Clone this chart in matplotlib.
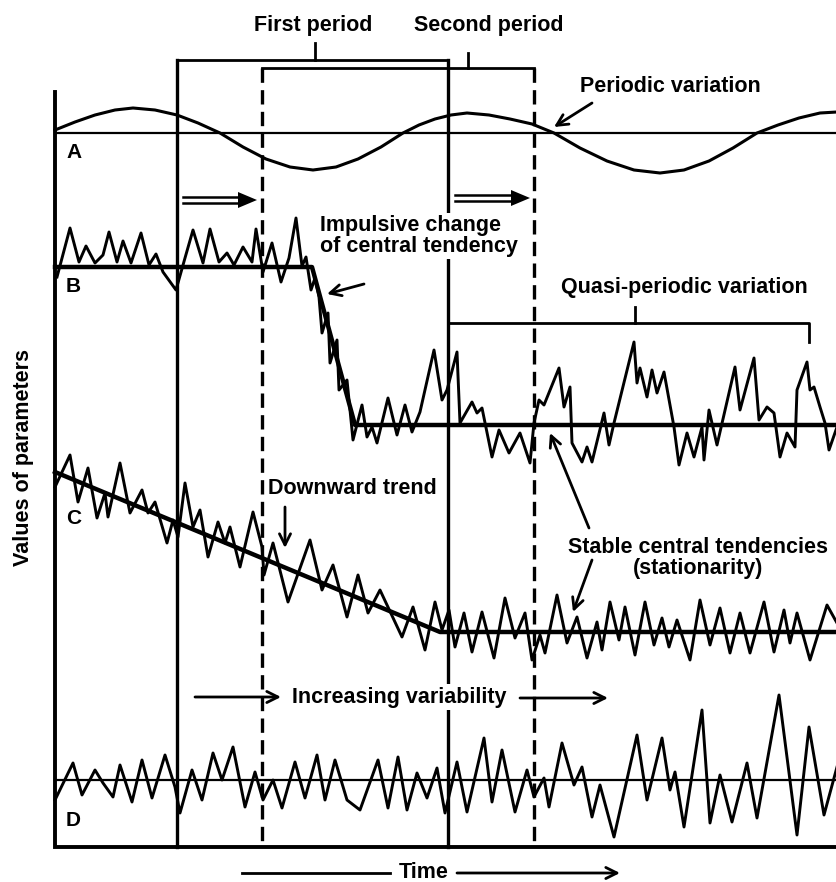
import numpy as np
import matplotlib.pyplot as plt

plt.rcParams['font.family'] = ['Liberation Sans', 'DejaVu Sans']

# Schematic drawn in picture units: x = time, y = value (down is lower value)
W, H = 837, 882

# Period boundaries (time)
t_first_start, t_first_end = 177, 448
t_second_start, t_second_end = 262, 534

# A: periodic variation (curve)
a_level = 133
a_x = [55, 75, 95, 115, 133, 155, 177, 198, 220, 243, 266, 290, 313, 336, 358, 381, 403,
       419, 435, 451, 467, 489, 510, 532, 554, 580, 607, 634, 660, 684, 709, 733, 757,
       778, 799, 820, 837]
a_y = [130, 122, 115, 110, 108, 110, 115, 123, 133, 147, 159, 167, 170, 167, 159, 147, 133,
       125, 119, 115, 113, 115, 119, 124, 133, 148, 161, 170, 173, 170, 161, 148, 133,
       125, 118, 113, 112]

# B: impulsive change of central tendency, then quasi-periodic variation
b_mean_x = [55, 312, 355, 837]
b_mean_y = [267, 267, 425, 425]
b_x = [57, 70, 79, 86, 95, 103, 109, 117, 123, 131, 141, 149, 156, 163, 176, 185, 193, 203,
       210, 219, 227, 234, 243, 252, 256, 263, 272, 281, 289, 296, 302, 306, 311, 315, 319,
       322, 328, 330, 337, 339, 347, 353, 362, 367, 372, 377, 388, 397, 405, 412, 420, 434,
       442, 447, 457, 460, 472, 477, 482, 492, 499, 509, 520, 530, 534, 539, 544, 559, 564,
       570, 572, 582, 587, 592, 604, 609, 614, 634, 637, 640, 647, 652, 657, 664, 674, 679,
       687, 694, 702, 704, 709, 717, 735, 740, 754, 759, 767, 774, 780, 787, 795, 797, 807,
       810, 814, 820, 825, 829, 837]
b_y = [277, 228, 262, 246, 263, 255, 232, 262, 241, 263, 233, 265, 254, 272, 290, 258, 230, 263,
       229, 262, 253, 265, 247, 262, 229, 272, 243, 282, 258, 218, 266, 257, 290, 278, 297,
       333, 313, 363, 340, 390, 380, 440, 405, 437, 427, 443, 398, 435, 405, 432, 412, 350,
       400, 390, 352, 423, 402, 413, 408, 457, 430, 453, 433, 463, 423, 400, 405, 368, 407,
       387, 443, 462, 447, 462, 413, 445, 423, 342, 383, 368, 397, 370, 393, 372, 427, 465,
       433, 457, 427, 460, 410, 445, 367, 410, 358, 420, 407, 413, 457, 433, 447, 390, 362,
       390, 387, 407, 423, 450, 427]

# C: downward trend, then stable central tendency
c_mean_x = [55, 440, 837]
c_mean_y = [472, 632, 632]
c_x = [55, 70, 78, 88, 97, 105, 108, 120, 130, 142, 148, 155, 167, 173, 178, 185, 193, 200,
       208, 218, 225, 230, 240, 253, 262, 264, 273, 288, 310, 322, 333, 347, 358, 368, 380,
       402, 413, 425, 435, 442, 449, 455, 464, 472, 482, 494, 505, 515, 525, 532, 540, 545,
       557, 567, 577, 587, 597, 602, 610, 619, 625, 635, 645, 654, 662, 669, 677, 690, 700,
       710, 720, 730, 740, 750, 764, 774, 784, 790, 797, 810, 827, 837]
c_y = [487, 455, 502, 468, 518, 493, 517, 463, 513, 490, 513, 502, 543, 520, 537, 483, 527, 510,
       557, 522, 543, 527, 567, 512, 547, 575, 543, 602, 540, 590, 565, 617, 575, 613, 590,
       637, 607, 650, 602, 630, 610, 647, 613, 652, 612, 658, 598, 638, 613, 660, 635, 653,
       595, 643, 617, 658, 622, 650, 602, 640, 607, 655, 602, 645, 618, 647, 620, 660, 600,
       645, 608, 653, 613, 653, 602, 652, 610, 643, 613, 660, 605, 623]

# D: increasing variability around a constant level
d_level = 780
d_x = [55, 73, 82, 95, 103, 113, 120, 132, 142, 152, 165, 175, 180, 192, 202, 213, 222, 233,
       245, 255, 263, 273, 282, 295, 305, 317, 325, 335, 347, 360, 378, 388, 398, 407, 417,
       427, 437, 445, 457, 467, 484, 492, 502, 515, 527, 534, 544, 549, 562, 574, 582, 592,
       600, 614, 637, 647, 662, 670, 675, 684, 702, 710, 720, 732, 747, 757, 779, 797, 809,
       824, 837]
d_y = [800, 763, 795, 770, 783, 797, 765, 802, 760, 798, 755, 787, 813, 770, 800, 753, 780, 747,
       807, 772, 800, 780, 808, 762, 798, 755, 800, 760, 800, 810, 760, 808, 757, 810, 773,
       798, 768, 813, 762, 812, 738, 802, 750, 812, 770, 797, 778, 807, 743, 785, 767, 817,
       785, 837, 735, 800, 738, 790, 772, 827, 710, 823, 775, 822, 763, 818, 695, 835, 727,
       815, 767]

fig = plt.figure(figsize=(W / 100, H / 100), dpi=100)
ax = fig.add_axes([0, 0, 1, 1])
ax.set_xlim(0, W)
ax.set_ylim(H, 0)
ax.axis('off')

k = 'black'
dash = (0, (4.3, 2.2))
x_left, y_bottom, y_top = 55, 847, 92

# frame (left and bottom axes)
ax.plot([x_left, x_left, W], [y_top, y_bottom, y_bottom], color=k, lw=2.8,
        solid_joinstyle='miter')

# period boundaries and brackets
ax.plot([t_first_start, t_first_start], [60, y_bottom], color=k, lw=2.4)
ax.plot([t_first_end, t_first_end], [60, y_bottom], color=k, lw=2.4)
ax.plot([t_second_start, t_second_start], [68, y_bottom], color=k, lw=2.4, linestyle=dash)
ax.plot([t_second_end, t_second_end], [68, y_bottom], color=k, lw=2.4, linestyle=dash)
ax.plot([t_first_start, t_first_end], [60, 60], color=k, lw=2)
ax.plot([315, 315], [60, 43], color=k, lw=2)
ax.plot([t_second_start, t_second_end], [68, 68], color=k, lw=2)
ax.plot([468, 468], [68, 53], color=k, lw=2)
ax.text(313, 25, 'First period', ha='center', va='center', fontsize=15.5, fontweight='bold')
ax.text(489, 25, 'Second period', ha='center', va='center', fontsize=15.5, fontweight='bold')

# A
ax.plot([x_left, W], [a_level, a_level], color=k, lw=1.6)
ax.plot(a_x, a_y, color=k, lw=2.2)
ax.text(66, 153, 'A', ha='left', va='center', fontsize=15, fontweight='bold')
ax.text(580, 87, 'Periodic variation', ha='left', va='center', fontsize=15.5, fontweight='bold')
ax.annotate('', xy=(554, 127), xytext=(592, 103),
            arrowprops=dict(arrowstyle='->', lw=2, color=k, mutation_scale=20,
                            shrinkA=0, shrinkB=0))


def double_arrow(x0, x1, y):
    ax.plot([x0, x1 - 14], [y - 3, y - 3], color=k, lw=1.8)
    ax.plot([x0, x1 - 14], [y + 3, y + 3], color=k, lw=1.8)
    ax.fill([x1 - 19, x1, x1 - 19], [y - 8, y, y + 8], color=k, lw=0)


double_arrow(183, 257, 200)
double_arrow(455, 530, 198)

# B
ax.plot(b_mean_x, b_mean_y, color=k, lw=3.2)
ax.plot(b_x, b_y, color=k, lw=2.1)
ax.text(66, 287, 'B', ha='left', va='center', fontsize=15, fontweight='bold')
ax.text(320, 236, 'Impulsive change\nof central tendency', ha='left', va='center',
        fontsize=15.5, fontweight='bold', linespacing=1.05,
        bbox=dict(facecolor='white', edgecolor='none', pad=1))
ax.annotate('', xy=(327, 294), xytext=(364, 284),
            arrowprops=dict(arrowstyle='->', lw=2, color=k, mutation_scale=20,
                            shrinkA=0, shrinkB=0))

# quasi-periodic bracket
ax.plot([t_first_end, 809, 809], [323, 323, 342], color=k, lw=2)
ax.plot([635, 635], [323, 307], color=k, lw=2)
ax.text(684, 287, 'Quasi-periodic variation', ha='center', va='center', fontsize=15.5,
        fontweight='bold')

# C
ax.plot(c_mean_x, c_mean_y, color=k, lw=3.2)
ax.plot(c_x, c_y, color=k, lw=2.1)
ax.text(66, 518, 'C', ha='left', va='center', fontsize=15, fontweight='bold')
ax.text(268, 488, 'Downward trend', ha='left', va='center', fontsize=15.5, fontweight='bold')
ax.annotate('', xy=(285, 548), xytext=(285, 507),
            arrowprops=dict(arrowstyle='->', lw=2, color=k, mutation_scale=20,
                            shrinkA=0, shrinkB=0))
ax.text(698, 558, 'Stable central tendencies\n(stationarity)', ha='center', va='center',
        fontsize=15.5, fontweight='bold', linespacing=1.05)
ax.annotate('', xy=(550, 433), xytext=(589, 528),
            arrowprops=dict(arrowstyle='->', lw=2, color=k, mutation_scale=20,
                            shrinkA=0, shrinkB=0))
ax.annotate('', xy=(573, 612), xytext=(592, 560),
            arrowprops=dict(arrowstyle='->', lw=2, color=k, mutation_scale=20,
                            shrinkA=0, shrinkB=0))

# increasing variability
ax.annotate('', xy=(281, 697), xytext=(195, 697),
            arrowprops=dict(arrowstyle='->', lw=2, color=k, mutation_scale=20,
                            shrinkA=0, shrinkB=0))
ax.text(292, 697, 'Increasing variability', ha='left', va='center', fontsize=15.5,
        fontweight='bold', bbox=dict(facecolor='white', edgecolor='none', pad=2))
ax.annotate('', xy=(608, 698), xytext=(520, 698),
            arrowprops=dict(arrowstyle='->', lw=2, color=k, mutation_scale=20,
                            shrinkA=0, shrinkB=0))

# D
ax.plot([x_left, W], [d_level, d_level], color=k, lw=1.6)
ax.plot(d_x, d_y, color=k, lw=2.1)
ax.text(66, 820, 'D', ha='left', va='center', fontsize=15, fontweight='bold')

# axis titles
ax.text(24, 458, 'Values of parameters', rotation=90, ha='center', va='center',
        fontsize=15.5, fontweight='bold')
ax.plot([242, 390], [873, 873], color=k, lw=2)
ax.text(424, 873, 'Time', ha='center', va='center', fontsize=15.5, fontweight='bold')
ax.annotate('', xy=(620, 873), xytext=(457, 873),
            arrowprops=dict(arrowstyle='->', lw=2, color=k, mutation_scale=20,
                            shrinkA=0, shrinkB=0))

fig.savefig('out.png', dpi=100)
